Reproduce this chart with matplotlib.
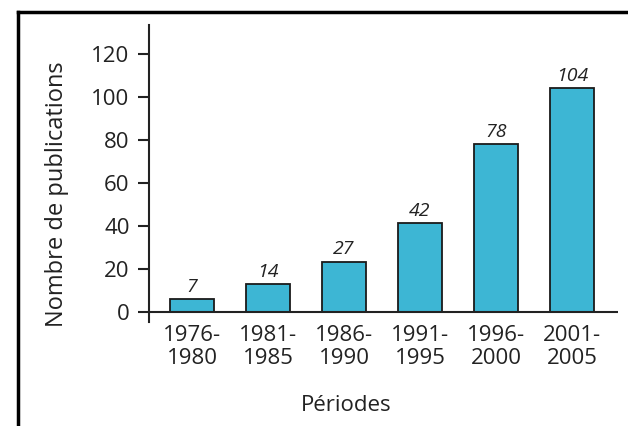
import matplotlib.pyplot as plt
import matplotlib.lines as mlines

periods = ["1976-\n1980", "1981-\n1985", "1986-\n1990", "1991-\n1995", "1996-\n2000", "2001-\n2005"]
heights = [6, 13, 23.4, 41.2, 78, 104]
labels = ["7", "14", "27", "42", "78", "104"]
yticks = [0, 20, 40, 60, 80, 100, 120]

plt.rcParams['font.family'] = ['Open Sans', 'DejaVu Sans']

fig = plt.figure(figsize=(6.28, 4.26), dpi=100)
ax = fig.add_axes([0.2373, 0.2441, 0.984 - 0.2373, 0.9413 - 0.2441])

x = list(range(len(periods)))
ax.bar(x, heights, width=0.58, color='#3db6d4', edgecolor='#1a1a1a', linewidth=1.3, zorder=3)
for xi, h, lab in zip(x, heights, labels):
    ax.text(xi, h + 1.5, lab, ha='center', va='bottom', fontsize=14, style='italic', color='#222222')

ax.set_xlim(-0.566, 5.605)
ax.set_ylim(-4.7, 133.5)
ax.axhline(0, color='#222222', linewidth=1.5, zorder=4)

for s in ['top', 'right', 'bottom']:
    ax.spines[s].set_visible(False)
ax.spines['left'].set_linewidth(1.5)
ax.spines['left'].set_color('#222222')

ax.set_yticks(yticks)
ax.tick_params(axis='y', direction='out', length=8, width=1.5, labelsize=16, pad=6, colors='#222222')
ax.set_xticks(x)
ax.set_xticklabels(periods, fontsize=16, linespacing=1.15, color='#222222')
ax.tick_params(axis='x', length=0, pad=2)

ax.set_ylabel("Nombre de publications", fontsize=17, color='#222222')
ax.set_xlabel("Périodes", fontsize=16, color='#222222')
ax.yaxis.set_label_coords(-0.17, 0.43)
ax.xaxis.set_label_coords(0.42, -0.245)

# cropped frame around the picture (top and left edges only)
fig.add_artist(mlines.Line2D([0.028, 1.0], [1 - 12 / 426, 1 - 12 / 426], color='black', linewidth=2.5, transform=fig.transFigure))
fig.add_artist(mlines.Line2D([0.029, 0.029], [0.0, 1 - 12 / 426], color='black', linewidth=2.5, transform=fig.transFigure))

fig.savefig("out.png", dpi=100)
